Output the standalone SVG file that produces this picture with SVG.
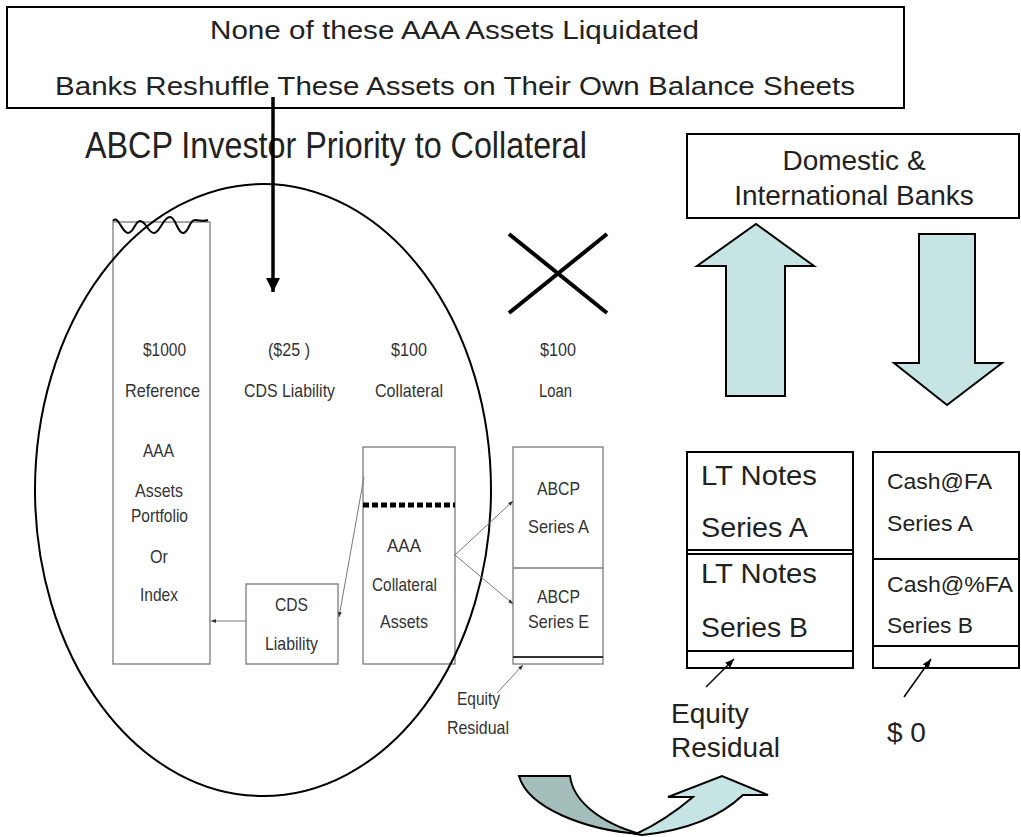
<svg xmlns="http://www.w3.org/2000/svg" width="1021" height="837" viewBox="0 0 1021 837">
<defs>
<style>
.bx{fill:#fff;stroke:#000;stroke-width:2}
.gb{fill:#fff;stroke:#7a7a7a;stroke-width:1.3}
.sm{font-family:"Liberation Sans",Arial,sans-serif;font-size:19px;fill:#333}
.md{font-family:"Liberation Sans",Arial,sans-serif;font-size:22px;fill:#222}
.lg{font-family:"Liberation Sans",Arial,sans-serif;font-size:28px;fill:#222}
.tp{font-family:"Liberation Sans",Arial,sans-serif;font-size:25px;fill:#222}
.lt{fill:#c6e4e4;stroke:#000;stroke-width:2}
.dk{fill:#a4bfbb;stroke:#000;stroke-width:2}
.thin{fill:none;stroke:#777;stroke-width:1}
</style>
<marker id="big" viewBox="0 0 10 10" refX="10" refY="5" markerWidth="4" markerHeight="4" orient="auto" markerUnits="strokeWidth">
<path d="M0,0 L10,5 L0,10 Z" fill="#000"/>
</marker>
<marker id="sml" viewBox="0 0 10 10" refX="10" refY="5" markerWidth="5" markerHeight="5" orient="auto" markerUnits="userSpaceOnUse">
<path d="M0,1 L10,5 L0,9 Z" fill="#333"/>
</marker>
<marker id="med" viewBox="0 0 10 10" refX="10" refY="5" markerWidth="9" markerHeight="9" orient="auto" markerUnits="userSpaceOnUse">
<path d="M0,1 L10,5 L0,9 Z" fill="#000"/>
</marker>
</defs>
<rect width="1021" height="837" fill="#fff"/>

<g id="top-note">
<rect class="bx" x="7" y="7" width="897" height="101" stroke-width="1.8"/>
<text class="tp" x="210" y="39" textLength="489" lengthAdjust="spacingAndGlyphs">None of these AAA Assets Liquidated</text>
<text class="tp" x="55" y="95" textLength="800" lengthAdjust="spacingAndGlyphs">Banks Reshuffle These Assets on Their Own Balance Sheets</text>
</g>

<g id="title">
<text x="85" y="158" font-family="'Liberation Sans',Arial,sans-serif" font-size="36" fill="#222" textLength="502" lengthAdjust="spacingAndGlyphs">ABCP Investor Priority  to Collateral</text>
</g>

<g id="reference">
<rect class="gb" x="113" y="222" width="97" height="442"/>
<path d="M113,221 C118,214 122,233 128,233 C134,233 135,221 140,221 C146,221 148,233 154,233 C160,233 163,217 170,217 C176,217 177,233 183,233 C189,233 189,220 195,220 C200,220 203,222 208,220" fill="none" stroke="#000" stroke-width="2"/>
<text class="sm" x="143" y="356" textLength="43" lengthAdjust="spacingAndGlyphs">$1000</text>
<text class="sm" x="125" y="397" textLength="75" lengthAdjust="spacingAndGlyphs">Reference</text>
<text class="sm" x="143" y="457" textLength="31" lengthAdjust="spacingAndGlyphs">AAA</text>
<text class="sm" x="135" y="497" textLength="48" lengthAdjust="spacingAndGlyphs">Assets</text>
<text class="sm" x="131" y="522" textLength="57" lengthAdjust="spacingAndGlyphs">Portfolio</text>
<text class="sm" x="150" y="563" textLength="18" lengthAdjust="spacingAndGlyphs">Or</text>
<text class="sm" x="140" y="601" textLength="38" lengthAdjust="spacingAndGlyphs">Index</text>
</g>

<g id="cds-liability-label">
<text class="sm" x="268" y="356" textLength="42" lengthAdjust="spacingAndGlyphs">($25 )</text>
<text class="sm" x="244" y="397" textLength="91" lengthAdjust="spacingAndGlyphs">CDS Liability</text>
</g>

<g id="cds-liability">
<rect class="gb" x="246" y="584" width="92" height="80"/>
<text class="sm" x="275" y="611" textLength="33" lengthAdjust="spacingAndGlyphs">CDS</text>
<text class="sm" x="265" y="650" textLength="53" lengthAdjust="spacingAndGlyphs">Liability</text>
</g>

<g id="collateral-label">
<text class="sm" x="391" y="356" textLength="36" lengthAdjust="spacingAndGlyphs">$100</text>
<text class="sm" x="375" y="397" textLength="68" lengthAdjust="spacingAndGlyphs">Collateral</text>
</g>

<g id="collateral">
<rect class="gb" x="363" y="447" width="92" height="217"/>
<line x1="363" y1="505" x2="455" y2="505" stroke="#000" stroke-width="5" stroke-dasharray="6,3"/>
<text class="sm" x="387" y="552" textLength="34" lengthAdjust="spacingAndGlyphs">AAA</text>
<text class="sm" x="372" y="591" textLength="65" lengthAdjust="spacingAndGlyphs">Collateral</text>
<text class="sm" x="380" y="628" textLength="48" lengthAdjust="spacingAndGlyphs">Assets</text>
</g>

<g id="loan-label">
<text class="sm" x="540" y="356" textLength="36" lengthAdjust="spacingAndGlyphs">$100</text>
<text class="sm" x="539" y="397" textLength="33" lengthAdjust="spacingAndGlyphs">Loan</text>
</g>

<g id="abcp">
<rect class="gb" x="513" y="447" width="90" height="217"/>
<line x1="513" y1="568" x2="603" y2="568" stroke="#7a7a7a" stroke-width="1.3"/>
<line x1="513" y1="657" x2="603" y2="657" stroke="#333" stroke-width="2"/>
<text class="sm" x="537" y="495" textLength="43" lengthAdjust="spacingAndGlyphs">ABCP</text>
<text class="sm" x="528" y="533" textLength="61" lengthAdjust="spacingAndGlyphs">Series A</text>
<text class="sm" x="537" y="603" textLength="43" lengthAdjust="spacingAndGlyphs">ABCP</text>
<text class="sm" x="528" y="628" textLength="61" lengthAdjust="spacingAndGlyphs">Series E</text>
</g>

<g id="equity-residual-small">
<text class="sm" x="457" y="705" textLength="43" lengthAdjust="spacingAndGlyphs">Equity</text>
<text class="sm" x="447" y="734" textLength="62" lengthAdjust="spacingAndGlyphs">Residual</text>
</g>

<g id="cross">
<line x1="509" y1="234" x2="607" y2="313" stroke="#000" stroke-width="4"/>
<line x1="607" y1="234" x2="509" y2="313" stroke="#000" stroke-width="4"/>
</g>

<g id="investor-ellipse">
<ellipse cx="263" cy="490" rx="228" ry="306" fill="none" stroke="#000" stroke-width="2"/>
</g>

<g id="banks">
<rect class="bx" x="687" y="134" width="332" height="84"/>
<text class="lg" x="854" y="170" text-anchor="middle">Domestic &amp;</text>
<text class="lg" x="854" y="205" text-anchor="middle">International Banks</text>
</g>

<g id="up-arrow">
<polygon class="lt" points="756,224 814,266 785,266 785,396 726,396 726,266 697,266"/>
</g>
<g id="down-arrow">
<polygon class="lt" points="919,234 975,234 975,363 1002,363 947,405 894,363 919,363"/>
</g>

<g id="lt-notes">
<rect class="bx" x="687" y="452" width="166" height="216"/>
<line x1="687" y1="550" x2="853" y2="550" stroke="#000" stroke-width="2"/>
<line x1="687" y1="554" x2="853" y2="554" stroke="#000" stroke-width="2"/>
<line x1="687" y1="651" x2="853" y2="651" stroke="#000" stroke-width="2"/>
<text class="lg" x="701" y="485" textLength="116" lengthAdjust="spacingAndGlyphs">LT Notes</text>
<text class="lg" x="701" y="537" textLength="107" lengthAdjust="spacingAndGlyphs">Series A</text>
<text class="lg" x="701" y="583" textLength="116" lengthAdjust="spacingAndGlyphs">LT Notes</text>
<text class="lg" x="701" y="637" textLength="107" lengthAdjust="spacingAndGlyphs">Series B</text>
</g>

<g id="cash">
<rect class="bx" x="873" y="452" width="146" height="216"/>
<line x1="873" y1="559" x2="1019" y2="559" stroke="#000" stroke-width="2"/>
<line x1="873" y1="646" x2="1019" y2="646" stroke="#000" stroke-width="2"/>
<text class="md" x="887" y="489" textLength="105" lengthAdjust="spacingAndGlyphs">Cash@FA</text>
<text class="md" x="887" y="531" textLength="86" lengthAdjust="spacingAndGlyphs">Series A</text>
<text class="md" x="887" y="592" textLength="126" lengthAdjust="spacingAndGlyphs">Cash@%FA</text>
<text class="md" x="887" y="633" textLength="86" lengthAdjust="spacingAndGlyphs">Series B</text>
</g>

<g id="equity-residual">
<text class="lg" x="671" y="723">Equity</text>
<text class="lg" x="671" y="757">Residual</text>
</g>
<g id="zero">
<text class="lg" x="887" y="742">$ 0</text>
</g>

<g id="curved-arrow">
<path class="dk" d="M519,776 L570,776 C573,800 598,822 640,834 C585,830 528,808 519,776 Z"/>
<path class="lt" d="M636,834 C662,822 680,808 693,797 L668,797 L722,776 L768,795 L743,795 C722,815 690,830 642,835 Z"/>
</g>

<g id="connectors">
<line x1="273" y1="97" x2="273" y2="292" stroke="#000" stroke-width="3.5" marker-end="url(#big)"/>
<line class="thin" x1="246" y1="621" x2="211" y2="621" stroke="#999" marker-end="url(#sml)"/>
<line class="thin" x1="364" y1="477" x2="339" y2="617" marker-end="url(#sml)"/>
<line class="thin" x1="455" y1="555" x2="513" y2="501" marker-end="url(#sml)"/>
<line class="thin" x1="455" y1="555" x2="513" y2="604" marker-end="url(#sml)"/>
<line class="thin" x1="497" y1="693" x2="523" y2="665" marker-end="url(#sml)"/>
<line x1="706" y1="687" x2="734" y2="659" stroke="#000" stroke-width="1.5" marker-end="url(#med)"/>
<line x1="904" y1="697" x2="931" y2="659" stroke="#000" stroke-width="1.5" marker-end="url(#med)"/>
</g>
</svg>
